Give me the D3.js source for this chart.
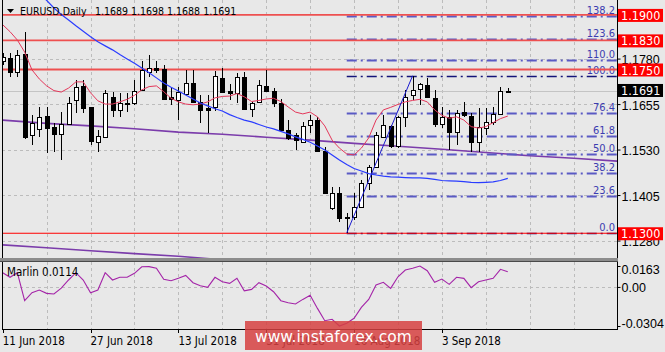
<!DOCTYPE html>
<html>
<head>
<meta charset="utf-8">
<script src="https://cdn.jsdelivr.net/npm/d3@7"></script>
<style>
  body { margin: 0; background: #e8e8e8; }
  svg { display: block; font-family: "DejaVu Sans Condensed", "DejaVu Sans", sans-serif; }
</style>
</head>
<body>
<div id="chart"></div>
<script>
// ---- data ----
const tickBars = [0, 12, 24, 36, 48, 60];
const tickLabels = ["11 Jun 2018", "27 Jun 2018", "13 Jul 2018", "31 Jul 2018", "16 Aug 2018", "3 Sep 2018"];

const open = [
  1.1774, 1.1781, 1.1744, 1.1793, 1.1570, 1.1586, 1.1622, 1.1591, 1.1573, 1.1600,
  1.1666, 1.1705, 1.1646, 1.1552, 1.1565, 1.1675, 1.1639, 1.1659, 1.1657, 1.1694,
  1.1744, 1.1753, 1.1751, 1.1675, 1.1666, 1.1683, 1.1714, 1.1662, 1.1644, 1.1646,
  1.1726, 1.1692, 1.1686, 1.1729, 1.1641, 1.1662, 1.1705, 1.1692, 1.1659, 1.1584,
  1.1570, 1.1552, 1.1598, 1.1611, 1.1527, 1.1369, 1.1410, 1.1342, 1.1346, 1.1373,
  1.1437, 1.1481, 1.1565, 1.1595, 1.1540, 1.1620, 1.1680, 1.1696, 1.1708, 1.1671,
  1.1600, 1.1620, 1.1579, 1.1632, 1.1622, 1.1552, 1.1589, 1.1607, 1.1628, 1.1689
];
const high = [
  1.1795, 1.1795, 1.1804, 1.1852, 1.1625, 1.1648, 1.1648, 1.1602, 1.1634, 1.1675,
  1.1721, 1.1721, 1.1648, 1.1584, 1.1694, 1.1689, 1.1685, 1.1685, 1.1721, 1.1772,
  1.1790, 1.1774, 1.1763, 1.1699, 1.1703, 1.1749, 1.1749, 1.1680, 1.1680, 1.1746,
  1.1753, 1.1710, 1.1740, 1.1744, 1.1662, 1.1721, 1.1749, 1.1699, 1.1668, 1.1611,
  1.1575, 1.1607, 1.1625, 1.1620, 1.1538, 1.1428, 1.1428, 1.1355, 1.1410, 1.1445,
  1.1488, 1.1579, 1.1625, 1.1598, 1.1622, 1.1694, 1.1733, 1.1712, 1.1726, 1.1694,
  1.1648, 1.1639, 1.1639, 1.1662, 1.1630, 1.1644, 1.1644, 1.1648, 1.1703, 1.1698
];
const low = [
  1.1762, 1.1730, 1.1730, 1.1560, 1.1543, 1.1564, 1.1520, 1.1524, 1.1501, 1.1598,
  1.1630, 1.1630, 1.1543, 1.1524, 1.1563, 1.1620, 1.1619, 1.1634, 1.1653, 1.1692,
  1.1730, 1.1740, 1.1666, 1.1653, 1.1611, 1.1677, 1.1657, 1.1602, 1.1575, 1.1636,
  1.1685, 1.1665, 1.1657, 1.1639, 1.1620, 1.1657, 1.1689, 1.1648, 1.1582, 1.1556,
  1.1529, 1.1547, 1.1575, 1.1524, 1.1408, 1.1364, 1.1332, 1.1300, 1.1336, 1.1369,
  1.1420, 1.1479, 1.1561, 1.1534, 1.1534, 1.1593, 1.1666, 1.1653, 1.1671, 1.1593,
  1.1589, 1.1529, 1.1543, 1.1620, 1.1524, 1.1524, 1.1570, 1.1598, 1.1625, 1.1688
];
const close = [
  1.1785, 1.1744, 1.1790, 1.1564, 1.1602, 1.1620, 1.1589, 1.1573, 1.1600, 1.1657,
  1.1703, 1.1644, 1.1554, 1.1567, 1.1686, 1.1639, 1.1659, 1.1655, 1.1692, 1.1749,
  1.1753, 1.1749, 1.1668, 1.1668, 1.1689, 1.1714, 1.1662, 1.1639, 1.1639, 1.1731,
  1.1689, 1.1686, 1.1730, 1.1641, 1.1657, 1.1708, 1.1692, 1.1659, 1.1584, 1.1561,
  1.1556, 1.1595, 1.1611, 1.1527, 1.1410, 1.1410, 1.1341, 1.1344, 1.1373, 1.1437,
  1.1481, 1.1570, 1.1598, 1.1540, 1.1620, 1.1675, 1.1694, 1.1710, 1.1674, 1.1600,
  1.1619, 1.1579, 1.1630, 1.1625, 1.1552, 1.1593, 1.1607, 1.1628, 1.1692, 1.1691
];

// red fast moving average
const fastMa = [
  1.1873, 1.1854, 1.1831, 1.1798, 1.1749, 1.1724, 1.1705, 1.1692, 1.1688, 1.1699,
  1.1716, 1.1716, 1.1686, 1.1664, 1.1655, 1.1655, 1.1661, 1.1668, 1.1679, 1.1694,
  1.1703, 1.1705, 1.1689, 1.1671, 1.1661, 1.1655, 1.1653, 1.1655, 1.1661, 1.1672,
  1.1676, 1.1677, 1.1684, 1.1675, 1.1662, 1.1665, 1.1669, 1.1671, 1.1662, 1.1647,
  1.1633, 1.1628, 1.1633, 1.1620, 1.1595, 1.1556, 1.1534, 1.1518, 1.1515, 1.1534,
  1.1562, 1.1611, 1.1639, 1.1646, 1.1654, 1.1661, 1.1665, 1.1668, 1.1661, 1.1639,
  1.1624, 1.1616, 1.1620, 1.1611, 1.1593, 1.1589, 1.1593, 1.1604, 1.1615, 1.1622
];

// blue slow moving average (enters from above the top edge)
const slowMa = [
  null, null, null, null, null, 1.1958, 1.1940, 1.1919, 1.1901, 1.1886,
  1.1870, 1.1855, 1.1840, 1.1826, 1.1815, 1.1804, 1.1791, 1.1779, 1.1767, 1.1754,
  1.1741, 1.1727, 1.1713, 1.1701, 1.1691, 1.1680, 1.1669, 1.1658, 1.1650, 1.1642,
  1.1636, 1.1626, 1.1618, 1.1611, 1.1606, 1.1599, 1.1592, 1.1587, 1.1580, 1.1573,
  1.1565, 1.1558, 1.1550, 1.1540, 1.1529, 1.1515, 1.1501, 1.1489, 1.1478, 1.1471,
  1.1464, 1.1460, 1.1457, 1.1455, 1.1454, 1.1453, 1.1452, 1.1452, 1.1451, 1.1448,
  1.1445, 1.1444, 1.1443, 1.1442, 1.1440, 1.1439, 1.1440, 1.1441, 1.1445, 1.1451
];

// purple long averages (shifted forward past the last bar)
const trendBars = [0, 6, 12, 18, 24, 30, 36, 42, 48, 54, 60, 66, 72, 78, 84];
const trendMa = [1.1611, 1.1602, 1.1595, 1.1587, 1.1578, 1.1572, 1.1564, 1.1556, 1.1547, 1.1539, 1.1531, 1.1522, 1.1513, 1.1506, 1.1498];
const bandBars = [0, 6, 12, 18, 24, 30];
const bandMa = [1.1268, 1.1260, 1.1252, 1.1244, 1.1237, 1.1227];

// Marlin oscillator
const marlin = [
  0.0111, 0.0075, 0.0111, -0.0107, -0.0045, -0.0024, -0.0050, -0.0055, -0.0009, 0.0054,
  0.0111, 0.0054, -0.0045, -0.0024, 0.0111, 0.0054, 0.0075, 0.0075, 0.0106, 0.0157,
  0.0158, 0.0145, 0.0059, 0.0048, 0.0067, 0.0090, 0.0033, 0.0009, -0.0003, 0.0075,
  0.0040, 0.0028, 0.0067, -0.0030, -0.0019, 0.0033, 0.0007, -0.0037, -0.0107, -0.0123,
  -0.0133, -0.0097, -0.0065, -0.0167, -0.0263, -0.0252, -0.0304, -0.0283, -0.0244, -0.0159,
  -0.0097, 0.0015, 0.0036, -0.0011, 0.0079, 0.0132, 0.0145, 0.0163, 0.0126, 0.0036,
  0.0061, 0.0020, 0.0075, 0.0067, -0.0006, 0.0040, 0.0054, 0.0067, 0.0137, 0.0118
];

const levels = [1.1900, 1.1830, 1.1750, 1.1300];
const fibLevels = [0, 23.6, 38.2, 50.0, 61.8, 76.4, 100.0, 110.0, 123.6, 138.2];
const fibLow = 1.1301, fibHigh = 1.1733, fibFromBar = 47, fibToBar = 56;
const priceTicks = [1.1780, 1.1655, 1.1530, 1.1405, 1.1280];
const marlinTicks = [0.0163, 0, -0.0304];
const bid = 1.1691;
const symbolText = "EURUSD,Daily";
const ohlcText = "1.1689 1.1698 1.1688 1.1691";
const marlinText = "Marlin 0.0114";

// ---- layout ----
const width = 665, height = 352;
const left = 2, right = 617;
const mainTop = 0, mainBottom = 258, subTop = 262, subBottom = 329;

const svg = d3.select("#chart").append("svg")
    .attr("width", width)
    .attr("height", height);

svg.append("rect").attr("width", width).attr("height", height).attr("fill", "#e8e8e8");

const x = d3.scaleLinear().domain([0, 84]).range([2.7, 2.7 + 84 * 7.32]);
const y = d3.scaleLinear().domain([1.1232, 1.1941]).range([mainBottom, mainTop]);
const ym = d3.scaleLinear().domain([-0.0304, 0.0163]).range([326, 266]);
const px = i => Math.round(x(i)) + 0.5;

const defs = svg.append("defs");
defs.append("clipPath").attr("id", "clip-main").append("rect")
    .attr("x", left).attr("y", mainTop).attr("width", right - left).attr("height", mainBottom - mainTop);
defs.append("clipPath").attr("id", "clip-sub").append("rect")
    .attr("x", left).attr("y", subTop).attr("width", right - left).attr("height", subBottom - subTop);

const main = svg.append("g").attr("clip-path", "url(#clip-main)");
const sub = svg.append("g").attr("clip-path", "url(#clip-sub)");

// grid
const gridBars = d3.range(6, 84, 6);
const gridStyle = sel => sel.attr("stroke", "#bcbcbc").attr("stroke-dasharray", "3,3").attr("shape-rendering", "crispEdges");

main.selectAll(".vgrid").data(gridBars).join("line")
    .attr("x1", d => px(d)).attr("x2", d => px(d))
    .attr("y1", mainTop).attr("y2", mainBottom)
    .call(gridStyle);
main.selectAll(".hgrid").data(priceTicks).join("line")
    .attr("x1", left).attr("x2", right)
    .attr("y1", d => Math.round(y(d)) + 0.5).attr("y2", d => Math.round(y(d)) + 0.5)
    .call(gridStyle);

// bid line
main.append("line")
    .attr("x1", left).attr("x2", right)
    .attr("y1", Math.round(y(bid)) + 0.5).attr("y2", Math.round(y(bid)) + 0.5)
    .attr("stroke", "#c4c4c4").attr("shape-rendering", "crispEdges");

// purple long averages
const lineAt = bars => d3.line().x((d, i) => x(bars[i])).y(d => y(d));
main.append("path").attr("d", lineAt(trendBars)(trendMa))
    .attr("fill", "none").attr("stroke", "#7b3cab").attr("stroke-width", 1.6);
main.append("path").attr("d", lineAt(bandBars)(bandMa))
    .attr("fill", "none").attr("stroke", "#7b3cab").attr("stroke-width", 1.6);

// fibonacci retracement
const fibPrice = lv => fibLow + (fibHigh - fibLow) * lv / 100;
const fibG = main.append("g");
fibG.selectAll("line").data(fibLevels).join("line")
    .attr("x1", x(fibFromBar)).attr("x2", right)
    .attr("y1", d => Math.round(y(fibPrice(d))) + 0.5)
    .attr("y2", d => Math.round(y(fibPrice(d))) + 0.5)
    .attr("stroke", d => (d === 0 || d === 100) ? "#14147a" : "#5a5ac4")
    .attr("stroke-width", d => (d === 0 || d === 100) ? 1.3 : 1.8)
    .attr("stroke-dasharray", "10,4,2,4");
fibG.selectAll("text").data(fibLevels).join("text")
    .attr("x", right - 2)
    .attr("y", d => y(fibPrice(d)) - 2)
    .attr("text-anchor", "end")
    .attr("fill", "#3c3cb0")
    .style("font-size", "11px")
    .text(d => d.toFixed(1));

// horizontal red levels
main.selectAll(".level").data(levels).join("line")
    .attr("x1", left).attr("x2", right)
    .attr("y1", d => y(d)).attr("y2", d => y(d))
    .attr("stroke", d => d < 1.14 ? "#ff0000" : "#ee5050")
    .attr("stroke-width", d => d < 1.14 ? 1.2 : 1.8);

// candles
const bars = open.map((o, i) => ({ i, o, h: high[i], l: low[i], c: close[i] }));
const candle = main.selectAll(".candle").data(bars).join("g");
candle.append("line")
    .attr("x1", d => px(d.i)).attr("x2", d => px(d.i))
    .attr("y1", d => Math.round(y(d.h))).attr("y2", d => Math.round(y(d.l)))
    .attr("stroke", "#000").attr("shape-rendering", "crispEdges");
candle.append("rect")
    .attr("x", d => px(d.i) - 2)
    .attr("y", d => Math.round(y(Math.max(d.o, d.c))) + 0.5)
    .attr("width", 4)
    .attr("height", d => Math.max(0, Math.round(y(Math.min(d.o, d.c))) - Math.round(y(Math.max(d.o, d.c)))))
    .attr("fill", d => d.c >= d.o ? "#fff" : "#000")
    .attr("stroke", "#000");

// moving averages
const maLine = d3.line().defined(d => d != null).x((d, i) => x(i)).y(d => y(d));
main.append("path").attr("d", maLine(fastMa))
    .attr("fill", "none").attr("stroke", "#e4375a").attr("stroke-width", 1);
main.append("path").attr("d", maLine(slowMa))
    .attr("fill", "none").attr("stroke", "#2a3cff").attr("stroke-width", 1.2);

// fibonacci base line
main.append("line")
    .attr("x1", x(fibFromBar)).attr("y1", y(fibLow))
    .attr("x2", x(fibToBar)).attr("y2", y(fibHigh))
    .attr("stroke", "#1a1ad0").attr("stroke-width", 1);

// ---- main price axis ----
const yAxis = svg.append("g")
    .attr("transform", `translate(${right + 0.5},0)`)
    .call(d3.axisRight(y).tickValues(priceTicks).tickFormat(d3.format(".4f")).tickSize(3).tickPadding(1));
yAxis.select(".domain").remove();
yAxis.selectAll("text").style("font-size", "12.5px").attr("fill", "#000").attr("dy", "0.42em").attr("font-family", null);
yAxis.selectAll("line").attr("stroke", "#000");

const levelTags = svg.append("g");
levelTags.selectAll("rect").data(levels).join("rect")
    .attr("x", right + 1).attr("y", d => y(d) - 6).attr("width", 45).attr("height", 13)
    .attr("fill", "#ff0000");
levelTags.selectAll("text").data(levels).join("text")
    .attr("x", right + 4).attr("y", d => y(d) + 0.5).attr("dy", "0.36em")
    .attr("fill", "#fff").style("font-size", "12.5px")
    .text(d => d3.format(".4f")(d));

svg.append("rect")
    .attr("x", right + 1).attr("y", y(bid) - 7).attr("width", 45).attr("height", 13)
    .attr("fill", "#000");
svg.append("text")
    .attr("x", right + 4).attr("y", y(bid) - 0.5).attr("dy", "0.36em")
    .attr("fill", "#fff").style("font-size", "12.5px")
    .text(d3.format(".4f")(bid));

// ---- Marlin sub window ----
sub.selectAll(".vgrid").data(gridBars).join("line")
    .attr("x1", d => px(d)).attr("x2", d => px(d))
    .attr("y1", subTop).attr("y2", subBottom)
    .call(gridStyle);
sub.append("line")
    .attr("x1", left).attr("x2", right)
    .attr("y1", Math.round(ym(0)) + 0.5).attr("y2", Math.round(ym(0)) + 0.5)
    .call(gridStyle);
sub.append("path")
    .attr("d", d3.line().x((d, i) => x(i)).y(d => ym(d))(marlin))
    .attr("fill", "none").attr("stroke", "#a424a8").attr("stroke-width", 1.1);
svg.append("text")
    .attr("x", 7).attr("y", 276)
    .style("font-size", "11.5px")
    .text(marlinText);

const mAxis = svg.append("g")
    .attr("transform", `translate(${right + 0.5},0)`)
    .call(d3.axisRight(ym).tickValues(marlinTicks)
        .tickFormat(d => d === 0 ? "0.00" : d.toFixed(4)).tickSize(3).tickPadding(1));
mAxis.select(".domain").remove();
mAxis.selectAll("line").attr("stroke", "#000");
mAxis.selectAll("text")
    .style("font-size", "12.5px").attr("fill", "#000").attr("font-family", null)
    .attr("dy", d => d > 0 ? "0.62em" : d < 0 ? "0.08em" : "0.36em");

// panel frames
const frame = svg.append("g").attr("stroke", "#000").attr("shape-rendering", "crispEdges");
frame.append("line").attr("x1", right + 0.5).attr("x2", right + 0.5).attr("y1", 0).attr("y2", mainBottom);
frame.append("line").attr("x1", right + 0.5).attr("x2", right + 0.5).attr("y1", subTop).attr("y2", subBottom);
frame.append("line").attr("x1", left + 0.5).attr("x2", left + 0.5).attr("y1", 0).attr("y2", subBottom);
frame.append("line").attr("x1", left).attr("x2", right + 1).attr("y1", subBottom + 0.5).attr("y2", subBottom + 0.5);

// window separator
svg.append("rect").attr("x", 0).attr("y", mainBottom).attr("width", right + 1).attr("height", subTop - mainBottom)
    .attr("fill", "#8c8c8c");
svg.append("line").attr("x1", 0).attr("x2", right + 1).attr("y1", subTop - 0.5).attr("y2", subTop - 0.5)
    .attr("stroke", "#4a4a4a");

// ---- date axis ----
const xAxis = svg.append("g");
xAxis.selectAll("line").data(tickBars).join("line")
    .attr("x1", d => px(d)).attr("x2", d => px(d))
    .attr("y1", subBottom).attr("y2", subBottom + 4)
    .attr("stroke", "#000");
xAxis.selectAll("text").data(tickBars).join("text")
    .attr("x", d => x(d))
    .attr("y", 344.5)
    .style("font-size", "11.5px")
    .text((d, i) => tickLabels[i]);

// ---- title ----
svg.append("path").attr("d", "M7,9 L14,9 L10.5,13 Z").attr("fill", "#000");
svg.append("text").attr("x", 20).attr("y", 15).style("font-size", "10.5px").text(symbolText);
svg.append("text").attr("x", 95).attr("y", 15).style("font-size", "10.5px").text(ohlcText);

// ---- watermark ----
svg.append("rect")
    .attr("x", 245).attr("y", 321).attr("width", 177).attr("height", 29)
    .attr("fill", "rgb(214,65,65)").attr("opacity", 0.85);
svg.append("text")
    .attr("x", 255).attr("y", 341.5)
    .attr("fill", "#fff")
    .style("font-family", "'DejaVu Sans', sans-serif")
    .style("font-size", "15.5px")
    .text("www.instaforex.com");
</script>
</body>
</html>
